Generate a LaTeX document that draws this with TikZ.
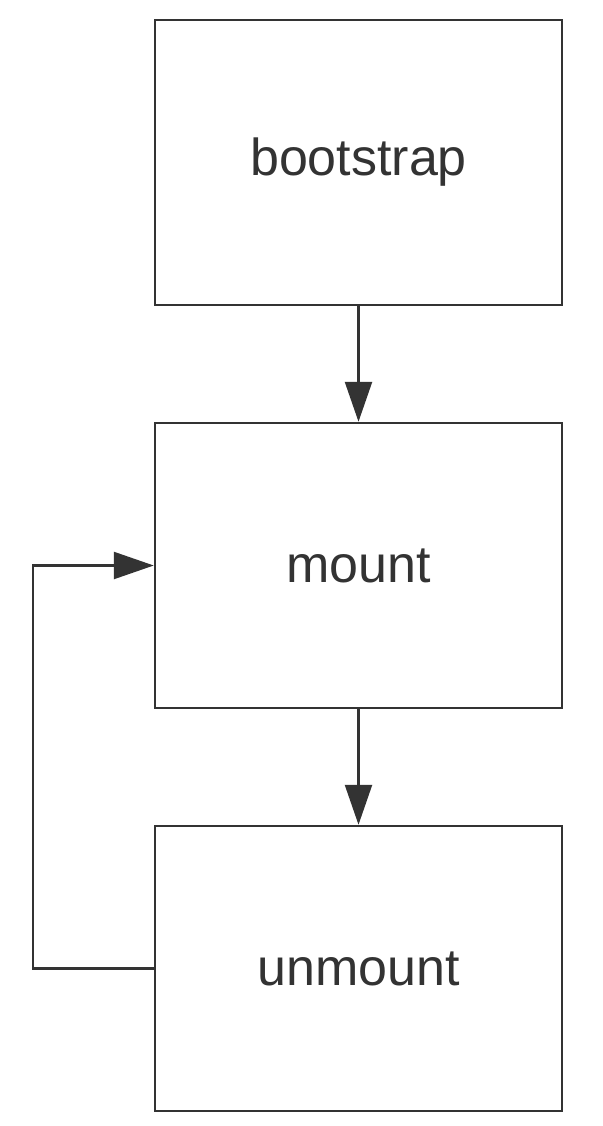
\documentclass[tikz,border=0pt]{standalone}
\usepackage{fontspec}
\setmainfont{Liberation Sans}
\usetikzlibrary{positioning,arrows.meta}
\definecolor{ink}{HTML}{333333}
\tikzstyle{stage}=[%
	draw = ink,
	line width = 2.5pt,
	fill = white,
	text = ink,
	minimum width = 407pt,
	minimum height = 285pt,
	inner sep = 0pt,
	font = \fontsize{52}{62}\selectfont
]
\tikzstyle{flow}=[%
	draw = ink,
	line width = 2.5pt,
	-{Triangle[length=40pt,width=27pt]}
]

\begin{document}
\begin{tikzpicture}[x=1pt,y=1pt]
	% Background, frame
	\fill[white] (0,0) rectangle (602,-1126);

	% Stages
	\node[stage] (boot) at (358.5,-162.5) {bootstrap};
	\node[stage, below=115.5pt of boot] (mount) {mount};
	\node[stage, below=115.5pt of mount] (unmount) {unmount};
	\coordinate (loop) at (33,0);

	% Arrows
	\draw[flow] (boot) -- (mount);
	\draw[flow] (mount) -- (unmount);
	\draw[flow] (unmount.west) -| (loop |- unmount.west) |- (mount.west);

\end{tikzpicture}
\end{document}
